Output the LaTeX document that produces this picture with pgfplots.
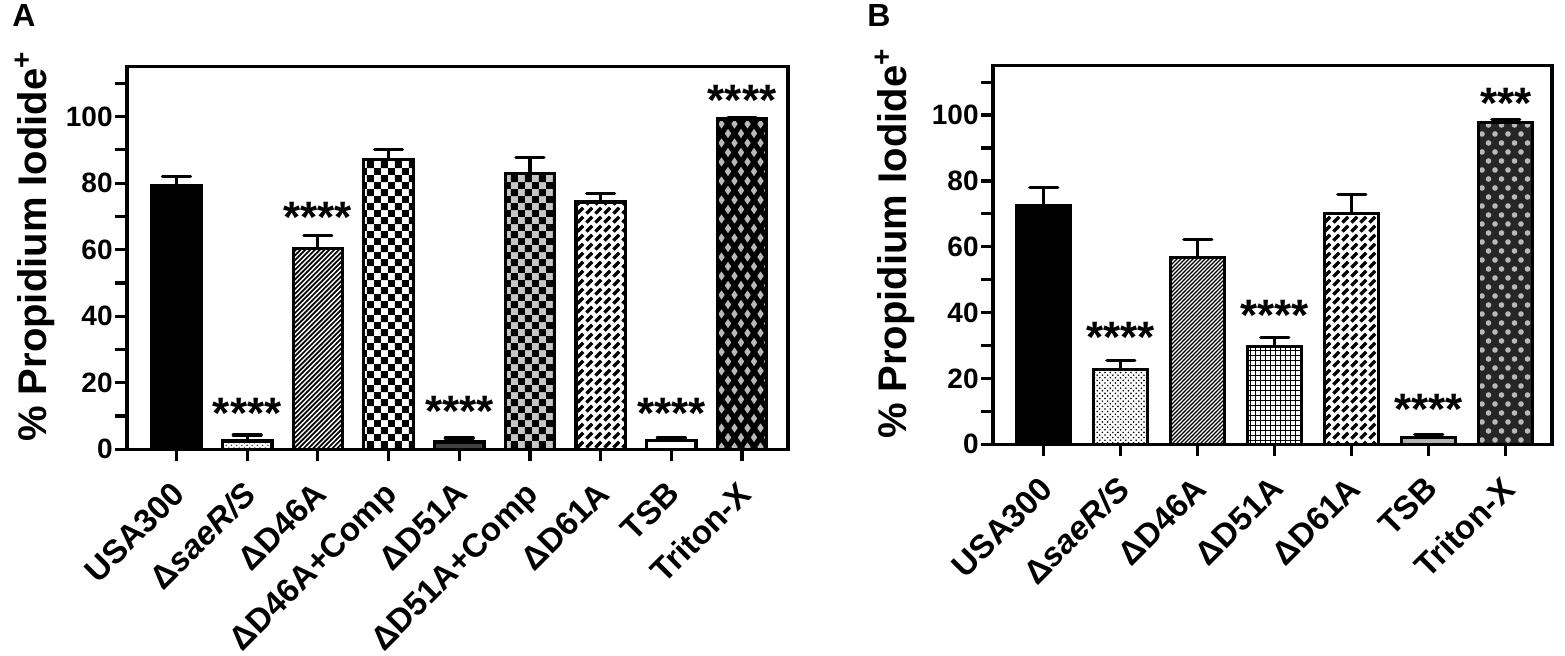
\documentclass[border=0pt]{standalone}
\usepackage{fontspec}
\setmainfont{Liberation Sans}
\usepackage{pgfplots}
\pgfplotsset{compat=1.18}
\usetikzlibrary{patterns}

% dense diagonal lines (A: D46A)
\pgfdeclarepatternformonly{lnA}{\pgfqpoint{-1pt}{-1pt}}{\pgfqpoint{3.4pt}{3.4pt}}{\pgfqpoint{2.4pt}{2.4pt}}{%
  \pgfsetlinewidth{0.85pt}%
  \pgfpathmoveto{\pgfqpoint{0pt}{0pt}}\pgfpathlineto{\pgfqpoint{2.5pt}{2.5pt}}\pgfusepath{stroke}}
% finer diagonal lines (B: D46A)
\pgfdeclarepatternformonly{lnB}{\pgfqpoint{-1pt}{-1pt}}{\pgfqpoint{3pt}{3pt}}{\pgfqpoint{2pt}{2pt}}{%
  \pgfsetlinewidth{0.6pt}%
  \pgfpathmoveto{\pgfqpoint{0pt}{0pt}}\pgfpathlineto{\pgfqpoint{2.1pt}{2.1pt}}\pgfusepath{stroke}}
% checkerboard
\pgfdeclarepatternformonly{chk}{\pgfpointorigin}{\pgfqpoint{7.2pt}{7.2pt}}{\pgfqpoint{7.2pt}{7.2pt}}{%
  \pgfpathrectangle{\pgfpointorigin}{\pgfqpoint{3.6pt}{3.6pt}}%
  \pgfpathrectangle{\pgfqpoint{3.6pt}{3.6pt}}{\pgfqpoint{3.6pt}{3.6pt}}%
  \pgfusepath{fill}}
% dashed diagonals (D61A)
\pgfdeclarepatternformonly{dsh}{\pgfqpoint{-1pt}{-1pt}}{\pgfqpoint{5.5pt}{5.5pt}}{\pgfqpoint{4.5pt}{4.5pt}}{%
  \pgfsetlinewidth{1.6pt}%
  \pgfpathmoveto{\pgfqpoint{0.7pt}{0.7pt}}\pgfpathlineto{\pgfqpoint{3.6pt}{3.6pt}}\pgfusepath{stroke}}
% heavy crosshatch (A: Triton-X)
\pgfdeclarepatternformonly{xh}{\pgfqpoint{-2pt}{-2pt}}{\pgfqpoint{8.5pt}{11.5pt}}{\pgfqpoint{6.5pt}{9.5pt}}{%
  \pgfsetlinewidth{2.6pt}%
  \pgfpathmoveto{\pgfqpoint{-0.5pt}{-0.731pt}}\pgfpathlineto{\pgfqpoint{7pt}{10.231pt}}%
  \pgfpathmoveto{\pgfqpoint{-0.5pt}{10.231pt}}\pgfpathlineto{\pgfqpoint{7pt}{-0.731pt}}%
  \pgfusepath{stroke}}
% light dots on dark (B: Triton-X)
\pgfdeclarepatternformonly{ldots}{\pgfqpoint{-1.5pt}{-1.5pt}}{\pgfqpoint{8pt}{10.5pt}}{\pgfqpoint{6.5pt}{9pt}}{%
  \pgfpathcircle{\pgfqpoint{0pt}{0pt}}{1.4pt}%
  \pgfpathcircle{\pgfqpoint{3.25pt}{4.5pt}}{1.4pt}%
  \pgfusepath{fill}}
% small dots (saeR/S)
\pgfdeclarepatternformonly{sdots}{\pgfqpoint{-1pt}{-1pt}}{\pgfqpoint{3.6pt}{3.6pt}}{\pgfqpoint{2.6pt}{2.6pt}}{%
  \pgfpathcircle{\pgfqpoint{0pt}{0pt}}{0.45pt}%
  \pgfpathcircle{\pgfqpoint{1.3pt}{1.3pt}}{0.45pt}%
  \pgfusepath{fill}}
% fine grid (B: D51A)
\pgfdeclarepatternformonly{grd}{\pgfqpoint{-1pt}{-1pt}}{\pgfqpoint{3.5pt}{3.5pt}}{\pgfqpoint{2.5pt}{2.5pt}}{%
  \pgfsetlinewidth{0.5pt}%
  \pgfpathmoveto{\pgfqpoint{-0.1pt}{0pt}}\pgfpathlineto{\pgfqpoint{2.6pt}{0pt}}%
  \pgfpathmoveto{\pgfqpoint{0pt}{-0.1pt}}\pgfpathlineto{\pgfqpoint{0pt}{2.6pt}}%
  \pgfusepath{stroke}}

\tikzset{stars/.style={font=\bfseries\fontsize{22}{22}\selectfont, anchor=base, inner sep=0pt, yshift=-12.6pt}}

\pgfplotsset{
  myax/.style={
    scale only axis, ymin=0, ymax=115, enlargelimits=false,
    ybar, bar width=0.7, bar shift=0pt,
    ytick={0,20,...,100}, minor ytick={10,30,...,110},
    axis line style={line width=1.6pt},
    tick style={line width=1.6pt, black},
    major tick length=6pt, minor tick length=6pt,
    tick align=outside, xtick pos=left, ytick pos=left,
    /pgf/number format/assume math mode=true,
    yticklabel style={font=\bfseries\fontsize{14}{14}\selectfont, inner sep=1pt},
    xticklabel style={font=\bfseries\fontsize{16.5}{16.5}\selectfont, inner sep=0pt, xshift=-3pt, rotate=45, anchor=north east},
    xticklabel shift=9pt,
    ylabel={\% Propidium Iodide\textsuperscript{+}},
    ylabel style={font=\bfseries\fontsize{20}{20}\selectfont, inner sep=0pt, anchor=south},
  },
  eb/.style={
    draw=black, line width=1.6pt,
    /pgfplots/error bars/y dir=plus,
    /pgfplots/error bars/y explicit,
    /pgfplots/error bars/error bar style={line width=1.6pt, black},
    /pgfplots/error bars/error mark options={line width=1.6pt, black, mark size=7pt, rotate=90, line cap=round}
  },
}

\begin{document}
\begin{tikzpicture}
\path[use as bounding box] (0,0) rectangle (782.5pt,328pt);
\node[anchor=north west, inner sep=0pt, font=\bfseries\fontsize{16}{16}\selectfont] at (6pt,326pt) {A};
\node[anchor=north west, inner sep=0pt, font=\bfseries\fontsize{16}{16}\selectfont] at (433.5pt,326pt) {B};

% ---------------- Panel A ----------------
\begin{axis}[myax,
  at={(63.5pt,103.35pt)}, anchor=south west,
  width=330.5pt, height=191.3pt,
  xmin=-0.7, xmax=8.65,
  xtick={0,...,8},
  xticklabels={USA300, Δ\textit{saeR/S}, ΔD46A, ΔD46A+Comp, ΔD51A, ΔD51A+Comp, ΔD61A, TSB, Triton-X},
  ylabel style={at={(axis description cs:-0.109,0.53)}},
]
\addplot[fill=black, eb] coordinates {(0,79.3) +- (0,2.8)};
\addplot[fill=white, pattern=sdots, pattern color=black!70, eb] coordinates {(1,2.5) +- (0,1.8)};
\addplot[pattern=lnA, pattern color=black, eb] coordinates {(2,60.3) +- (0,4.0)};
\addplot[pattern=chk, pattern color=black, eb] coordinates {(3,87.0) +- (0,3.0)};
\addplot[fill=black!75, eb] coordinates {(4,2.2) +- (0,1.2)};
\addplot[pattern=chk, pattern color=black, preaction={fill=gray!45}, eb] coordinates {(5,83.0) +- (0,4.8)};
\addplot[pattern=dsh, pattern color=black, eb] coordinates {(6,74.3) +- (0,2.7)};
\addplot[fill=white, eb] coordinates {(7,2.6) +- (0,0.8)};
\addplot[pattern=xh, pattern color=black, preaction={fill=gray!55}, eb] coordinates {(8,99.3) +- (0,0.4)};
\node[stars] at (axis cs:1,13.8) {****};
\node[stars] at (axis cs:2,72.8) {****};
\node[stars] at (axis cs:4,14.3) {****};
\node[stars] at (axis cs:7,13.8) {****};
\node[stars] at (axis cs:8,108.0) {****};
\end{axis}

% ---------------- Panel B ----------------
\begin{axis}[myax,
  at={(496.5pt,105.85pt)}, anchor=south west,
  width=279.5pt, height=189.3pt,
  xmin=-0.66, xmax=6.6,
  xtick={0,...,6},
  xticklabels={USA300, Δ\textit{saeR/S}, ΔD46A, ΔD51A, ΔD61A, TSB, Triton-X},
  ylabel style={at={(axis description cs:-0.1395,0.53)}},
]
\addplot[fill=black, eb] coordinates {(0,72.5) +- (0,5.6)};
\addplot[pattern=sdots, pattern color=black, eb] coordinates {(1,22.7) +- (0,2.8)};
\addplot[pattern=lnB, pattern color=black, eb] coordinates {(2,56.8) +- (0,5.3)};
\addplot[pattern=grd, pattern color=black, eb] coordinates {(3,29.6) +- (0,2.9)};
\addplot[pattern=dsh, pattern color=black, eb] coordinates {(4,70.0) +- (0,5.8)};
\addplot[fill=gray!60, eb] coordinates {(5,2.1) +- (0,0.9)};
\addplot[pattern=ldots, pattern color=gray!55, preaction={fill=black!85}, eb] coordinates {(6,97.8) +- (0,0.9)};
\node[stars] at (axis cs:1,35.6) {****};
\node[stars] at (axis cs:3,42.2) {****};
\node[stars] at (axis cs:5,13.7) {****};
\node[stars] at (axis cs:6,106.6) {***};
\end{axis}
\end{tikzpicture}
\end{document}
